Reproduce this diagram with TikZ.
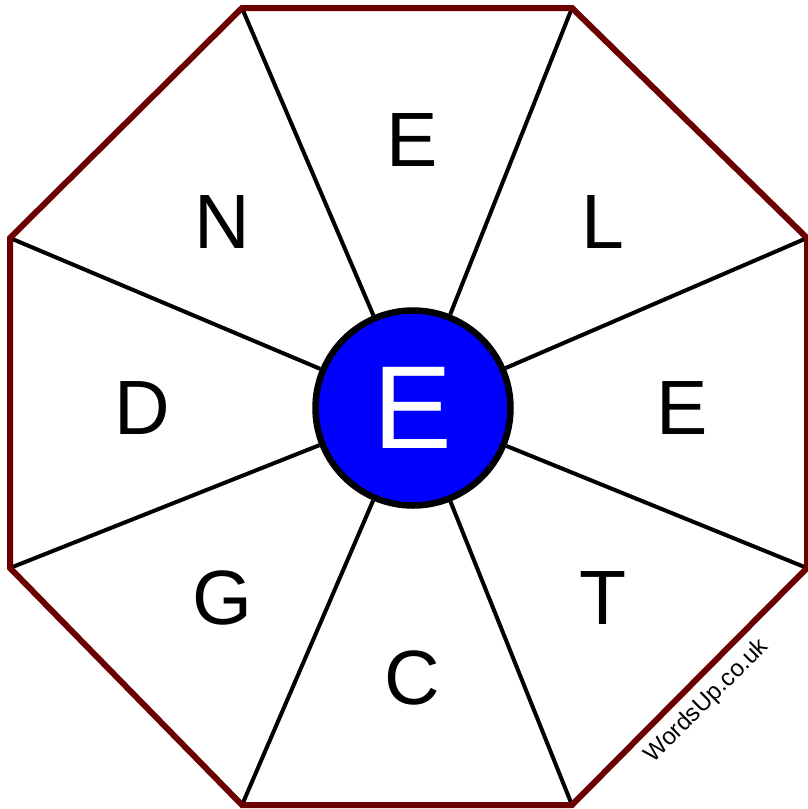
\documentclass[tikz,border=0pt]{standalone}
\usepackage{fontspec}
\setmainfont{Liberation Sans}
\definecolor{octred}{HTML}{6B0000}
\definecolor{hubblue}{HTML}{0000FF}
\begin{document}
\begin{tikzpicture}[x=1pt,y=-1pt,
  rim/.style={draw=octred,line width=6pt,line join=miter},
  spoke/.style={draw=black,line width=4pt},
  letter/.style={inner sep=0pt,font=\fontsize{77}{77}\selectfont},
  hub/.style={circle,draw=black,line width=6.5pt,fill=hubblue,minimum size=195pt,inner sep=0pt,
    font=\fontsize{118}{118}\selectfont,text=white}]
\useasboundingbox (0,0) rectangle (807,809);
\coordinate (v1) at (242,8);
\coordinate (v2) at (572,8);
\coordinate (v3) at (807,238);
\coordinate (v4) at (807,568);
\coordinate (v5) at (572,805);
\coordinate (v6) at (242,805);
\coordinate (v7) at (10,568);
\coordinate (v8) at (10,238);
\node[hub] (c) at (413,408) {E};
\foreach \v in {v1,v2,v3,v4,v5,v6,v7,v8}
  \draw[spoke] (\v) -- (c);
\draw[rim] (v1) -- (v2) -- (v3) -- (v4) -- (v5) -- (v6) -- (v7) -- (v8) -- cycle;
\node[letter] (l1) at (412,140) {E};
\node[letter] (l2) at (603,222) {L};
\node[letter] (l3) at (682,408) {E};
\node[letter] (l4) at (603,598) {T};
\node[letter] (l5) at (412,678) {C};
\node[letter] (l6) at (222,598) {G};
\node[letter] (l7) at (142,408) {D};
\node[letter] (l8) at (222,222) {N};
\node[inner sep=0pt,rotate=45,font=\fontsize{24}{24}\selectfont] (w) at (707,701) {WordsUp.co.uk};
\end{tikzpicture}
\end{document}
